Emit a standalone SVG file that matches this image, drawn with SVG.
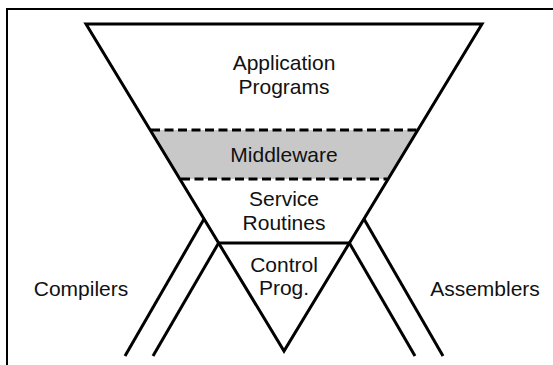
<svg xmlns="http://www.w3.org/2000/svg" width="553" height="365" viewBox="0 0 553 365">
<style>
.ln{stroke:#000;stroke-width:3;fill:none;stroke-linejoin:miter}
.dash{stroke:#000;stroke-width:3;fill:none;stroke-dasharray:9 4.5}
.lbl{font-family:"Liberation Sans",Arial,sans-serif;font-size:21px;fill:#111;text-anchor:middle}
</style>
<rect x="0" y="0" width="553" height="365" fill="#fff"/>
<g id="frame">
<line x1="6" y1="9" x2="553" y2="9" stroke="#000" stroke-width="2"/>
<line x1="7" y1="9" x2="7" y2="365" stroke="#000" stroke-width="2"/>
</g>
<g id="funnel">
<polygon points="86,24 482,24 284,351" fill="#fff"/>
</g>
<g id="middleware">
<polygon points="150.2,130 417.8,130 388.1,179 179.9,179" fill="#c8c8c8"/>
<line class="dash" x1="151" y1="130" x2="417" y2="130"/>
<line class="dash" x1="181" y1="179" x2="387" y2="179"/>
<text class="lbl" x="284" y="162">Middleware</text>
</g>
<g id="application">
<polygon class="ln" points="86,24 482,24 284,351"/>
<text class="lbl" x="284" y="70">Application</text>
<text class="lbl" x="284" y="94">Programs</text>
</g>
<g id="service">
<text class="lbl" x="284" y="206">Service</text>
<text class="lbl" x="284" y="230">Routines</text>
</g>
<g id="control">
<line class="ln" x1="218.6" y1="243" x2="349.4" y2="243"/>
<text class="lbl" x="284" y="272">Control</text>
<text class="lbl" x="284" y="295">Prog.</text>
</g>
<g id="connectors">
<line class="ln" x1="204" y1="219" x2="125" y2="356"/>
<line class="ln" x1="218.6" y1="243" x2="153" y2="356"/>
<line class="ln" x1="349.4" y1="243" x2="415" y2="356"/>
<line class="ln" x1="364" y1="219" x2="443" y2="356"/>
</g>
<g id="compilers">
<text class="lbl" x="81" y="296">Compilers</text>
</g>
<g id="assemblers">
<text class="lbl" x="485" y="296">Assemblers</text>
</g>
</svg>
